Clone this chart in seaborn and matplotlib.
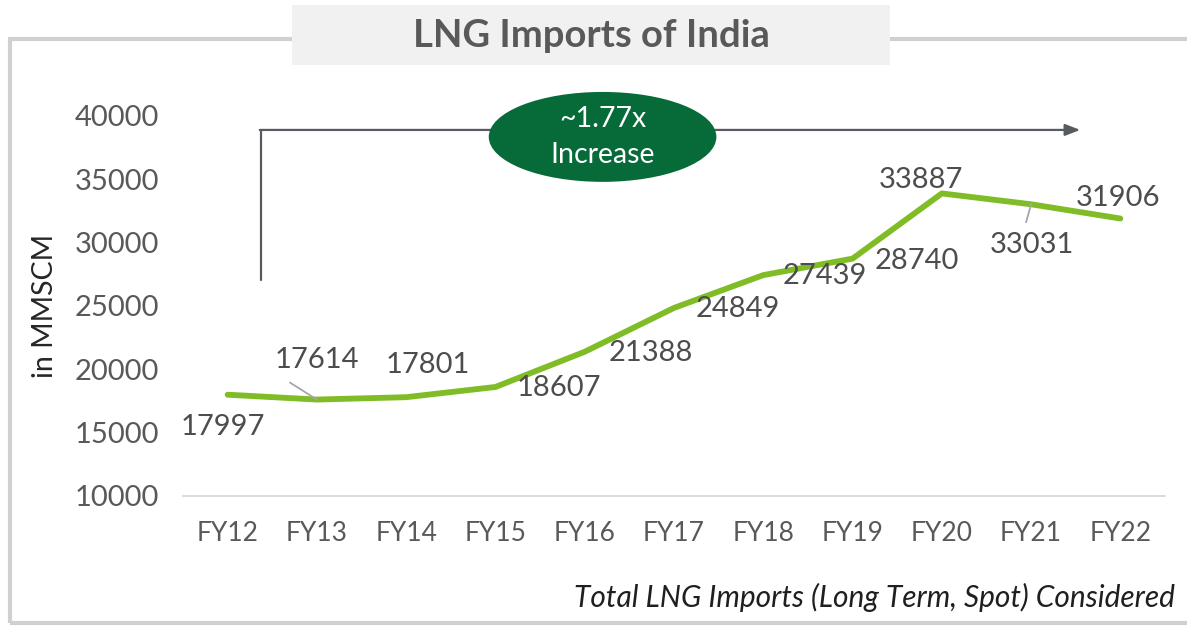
import matplotlib
matplotlib.use("Agg")
import matplotlib.pyplot as plt
from matplotlib.patches import Rectangle, Ellipse
import pandas as pd
import seaborn as sns

# data
years = ['FY12', 'FY13', 'FY14', 'FY15', 'FY16', 'FY17', 'FY18', 'FY19', 'FY20', 'FY21', 'FY22']
imports = [17997, 17614, 17801, 18607, 21388, 24849, 27439, 28740, 33887, 33031, 31906]
yticks = [10000, 15000, 20000, 25000, 30000, 35000, 40000]

# label offsets in pixels (dx, dy) from each point
label_offsets = [(-5, -32), (0, 40), (22, 32), (63, -1), (66, -1), (64, -1),
                 (62, -1), (64, -2), (-21, 13), (1, -41), (-2, 21)]

sns.set_style("white")
plt.rcParams['font.family'] = ['Lato', 'DejaVu Sans']

W, H = 1187, 626
fig = plt.figure(figsize=(W / 100, H / 100), dpi=100)
ax = fig.add_axes([183 / W, 1 - 496 / H, (1165 - 183) / W, (496 - 116) / H])

df = pd.DataFrame({'idx': range(len(years)), 'value': imports})
sns.lineplot(data=df, x='idx', y='value', ax=ax, color='#80bc26', linewidth=4.2,
             solid_capstyle='round', solid_joinstyle='round', zorder=3)

ax.set_xlim(-0.5, len(years) - 0.5)
ax.set_ylim(10000, 40000)
ax.set_xticks(range(len(years)))
ax.set_xticklabels(years)
ax.set_yticks(yticks)
ax.tick_params(axis='both', length=0, labelcolor='#595959')
ax.tick_params(axis='x', pad=18, labelsize=19)
ax.tick_params(axis='y', pad=17, labelsize=21)
ax.set_xlabel('')
ax.set_ylabel('in MMSCM', fontsize=20.5, color='#262626', labelpad=12)
for s in ['top', 'right', 'left']:
    ax.spines[s].set_visible(False)
ax.spines['bottom'].set_color('#d9d9d9')
ax.spines['bottom'].set_linewidth(1.3)

# data labels
for i, (v, (dx, dy)) in enumerate(zip(imports, label_offsets)):
    ax.annotate(f'{v}', xy=(i, v), xytext=(dx, dy), textcoords='offset pixels',
                ha='center', va='center', fontsize=21, color='#4d4d4d', zorder=4)

# leader lines
ax.annotate('', xy=(1, imports[1]), xytext=(-27, 17), textcoords='offset pixels',
            arrowprops=dict(arrowstyle='-', color='#a6a6a6', lw=1.3, shrinkA=0, shrinkB=0))
ax.annotate('', xy=(9, imports[9]), xytext=(-5, -18), textcoords='offset pixels',
            arrowprops=dict(arrowstyle='-', color='#a6a6a6', lw=1.3, shrinkA=0, shrinkB=0))

# growth arrow
ax.plot([0.37, 0.37], [27050, 38900], color='#575b61', lw=1.6, clip_on=False, zorder=2)
ax.annotate('', xy=(9.55, 38900), xytext=(0.36, 38900),
            arrowprops=dict(arrowstyle='-|>,head_length=0.9,head_width=0.35',
                            color='#575b61', lw=1.6, shrinkA=0, shrinkB=0),
            annotation_clip=False, zorder=2)
ell = Ellipse((4.2, 38350), width=2.55, height=7100, facecolor='#066b38',
              edgecolor='none', clip_on=False, zorder=5)
ax.add_patch(ell)
ax.text(4.2, 38350, '~1.77x\nIncrease', ha='center', va='center', fontsize=20.5,
        color='white', linespacing=1.45, zorder=6)

# frame and title box
fig.add_artist(Rectangle((10 / W, 1 - 623 / H), (W - 8) / W, (623 - 39) / H,
                         transform=fig.transFigure, fill=False, edgecolor='#d0d0d0',
                         linewidth=3, zorder=0))
fig.add_artist(Rectangle((292 / W, 1 - 65 / H), (890 - 292) / W, 60 / H,
                         transform=fig.transFigure, facecolor='#f1f1f1',
                         edgecolor='none', zorder=1))
fig.text(591 / W, 1 - 36 / H, 'LNG Imports of India', ha='center', va='center',
         fontsize=27.5, fontweight='bold', color='#595959', zorder=2)

fig.text(1175 / W, 1 - 597 / H, 'Total LNG Imports (Long Term, Spot) Considered',
         ha='right', va='center', fontsize=21.5, style='italic', color='#1f1f1f')

fig.savefig('out.png', dpi=100)
